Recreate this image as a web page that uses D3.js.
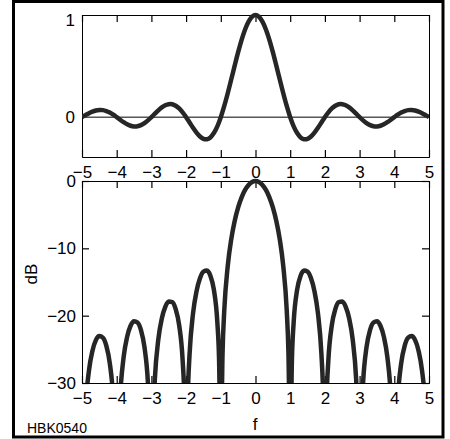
<!DOCTYPE html>
<html><head><meta charset="utf-8">
<script src="https://cdn.jsdelivr.net/npm/d3@7"></script>
<style>body{margin:0;background:#fff}svg{display:block}</style>
</head><body>
<script>
// Top panel: amplitude vs f (sampled)
const ampF = [-5,-4.9,-4.8,-4.7,-4.6,-4.5,-4.4,-4.3,-4.2,-4.1,-4,-3.9,-3.8,-3.7,-3.6,-3.5,-3.4,-3.3,-3.2,-3.1,-3,-2.9,-2.8,-2.7,-2.6,-2.5,-2.4,-2.3,-2.2,-2.1,-2,-1.9,-1.8,-1.7,-1.6,-1.5,-1.4,-1.3,-1.2,-1.1,-1,-0.9,-0.8,-0.7,-0.6,-0.5,-0.4,-0.3,-0.2,-0.1,0,0.1,0.2,0.3,0.4,0.5,0.6,0.7,0.8,0.9,1,1.1,1.2,1.3,1.4,1.5,1.6,1.7,1.8,1.9,2,2.1,2.2,2.3,2.4,2.5,2.6,2.7,2.8,2.9,3,3.1,3.2,3.3,3.4,3.5,3.6,3.7,3.8,3.9,4,4.1,4.2,4.3,4.4,4.5,4.6,4.7,4.8,4.9,5];
const ampV = [0,0.02007,0.03898,0.05479,0.06581,0.07074,0.0688,0.05989,0.04455,0.02399,0,-0.02522,-0.04924,-0.0696,-0.08409,-0.09095,-0.08904,-0.07803,-0.05847,-0.03173,0,0.03392,0.06682,0.09538,0.11643,0.12732,0.12614,0.11196,0.08505,0.04684,0,-0.05177,-0.10394,-0.15148,-0.18921,-0.21221,-0.21624,-0.19809,-0.15592,-0.08942,0,0.10929,0.23387,0.36788,0.50455,0.63662,0.75683,0.85839,0.93549,0.98363,1,0.98363,0.93549,0.85839,0.75683,0.63662,0.50455,0.36788,0.23387,0.10929,0,-0.08942,-0.15592,-0.19809,-0.21624,-0.21221,-0.18921,-0.15148,-0.10394,-0.05177,0,0.04684,0.08505,0.11196,0.12614,0.12732,0.11643,0.09538,0.06682,0.03392,0,-0.03173,-0.05847,-0.07803,-0.08904,-0.09095,-0.08409,-0.0696,-0.04924,-0.02522,0,0.02399,0.04455,0.05989,0.0688,0.07074,0.06581,0.05479,0.03898,0.02007,0];

// Bottom panel: level in dB vs f (sampled, denser near nulls)
const dbF = [-4.98,-4.95,-4.9,-4.8,-4.7,-4.6,-4.5,-4.4,-4.3,-4.2,-4.1,-4.05,-4.02,
 -3.98,-3.95,-3.9,-3.8,-3.7,-3.6,-3.5,-3.4,-3.3,-3.2,-3.1,-3.05,-3.02,
 -2.98,-2.95,-2.9,-2.8,-2.7,-2.6,-2.5,-2.4,-2.3,-2.2,-2.1,-2.05,-2.02,
 -1.98,-1.95,-1.9,-1.8,-1.7,-1.6,-1.5,-1.4,-1.3,-1.2,-1.1,-1.05,-1.02,
 -0.98,-0.95,-0.9,-0.8,-0.7,-0.6,-0.5,-0.4,-0.3,-0.2,-0.1,0,0.1,0.2,0.3,0.4,0.5,0.6,0.7,0.8,0.9,0.95,0.98,
 1.02,1.05,1.1,1.2,1.3,1.4,1.5,1.6,1.7,1.8,1.9,1.95,1.98,
 2.02,2.05,2.1,2.2,2.3,2.4,2.5,2.6,2.7,2.8,2.9,2.95,2.98,
 3.02,3.05,3.1,3.2,3.3,3.4,3.5,3.6,3.7,3.8,3.9,3.95,3.98,
 4.02,4.05,4.1,4.2,4.3,4.4,4.5,4.6,4.7,4.8,4.9,4.95,4.98];
const dbV = [-47.93,-39.95,-33.95,-28.18,-25.23,-23.63,-23.01,-23.25,-24.45,-27.02,-32.40,-38.21,-46.07,
 -45.98,-37.99,-31.97,-26.15,-23.15,-21.50,-20.82,-21.01,-22.15,-24.66,-29.97,-35.74,-43.59,
 -43.47,-35.45,-29.39,-23.50,-20.41,-18.68,-17.90,-17.98,-19.02,-21.41,-26.59,-32.29,-40.09,
 -39.92,-31.86,-25.72,-19.66,-16.39,-14.46,-13.46,-13.30,-14.06,-16.14,-20.97,-26.48,-34.16,
 -33.81,-25.61,-19.23,-12.62,-8.686,-5.942,-3.922,-2.420,-1.326,-0.579,-0.143,0,-0.143,-0.579,-1.326,-2.420,-3.922,-5.942,-8.686,-12.62,-19.23,-25.61,-33.81,
 -34.16,-26.48,-20.97,-16.14,-14.06,-13.30,-13.46,-14.46,-16.39,-19.66,-25.72,-31.86,-39.92,
 -40.09,-32.29,-26.59,-21.41,-19.02,-17.98,-17.90,-18.68,-20.41,-23.50,-29.39,-35.45,-43.47,
 -43.59,-35.74,-29.97,-24.66,-22.15,-21.01,-20.82,-21.50,-23.15,-26.15,-31.97,-37.99,-45.98,
 -46.07,-38.21,-32.40,-27.02,-24.45,-23.25,-23.01,-23.63,-25.23,-28.18,-33.95,-39.95,-47.93];

const xTicks = [-5,-4,-3,-2,-1,0,1,2,3,4,5];
const ampTicks = [0,1];
const dbTicks = [0,-10,-20,-30];
const xLabel = "f";
const yLabelDb = "dB";
const figId = "HBK0540";

const W = 450, H = 439;
const svg = d3.select("body").append("svg").attr("width", W).attr("height", H);
const font = "'Liberation Sans', Arial, sans-serif";
const fs = 17;
const fmt = d => d < 0 ? "\u2212" + Math.abs(d) : String(d);

// outer frame
svg.append("rect").attr("x", 13.5).attr("y", 1.5).attr("width", 429.5).attr("height", 435.5)
  .attr("fill", "none").attr("stroke", "#000").attr("stroke-width", 3);

const L = 82, R = 429;
const x = d3.scaleLinear().domain([-5, 5]).range([L, R]);
const y1 = d3.scaleLinear().domain([-0.39, 1]).range([157, 15]);
const y2 = d3.scaleLinear().domain([-30, 0]).range([383, 181]);

const defs = svg.append("defs");
defs.append("clipPath").attr("id", "c1").append("rect")
  .attr("x", L).attr("y", y1(1) - 4).attr("width", R - L).attr("height", y1(-0.39) - y1(1) + 4);
defs.append("clipPath").attr("id", "c2").append("rect")
  .attr("x", L).attr("y", y2(0) - 4).attr("width", R - L).attr("height", y2(-30) - y2(0) + 4);

const tick = 7;
function panel(y, ticks, top, bottom, isDb) {
  const g = svg.append("g");
  g.append("g").attr("class", "xb").attr("transform", `translate(0,${bottom})`)
    .call(d3.axisBottom(x).tickValues(xTicks).tickSize(-tick).tickPadding(9).tickFormat(fmt));
  g.append("g").attr("transform", `translate(0,${top})`)
    .call(d3.axisTop(x).tickValues(xTicks).tickSize(-tick).tickFormat(""));
  g.append("g").attr("class", "yl").attr("transform", `translate(${L},0)`)
    .call(d3.axisLeft(y).tickValues(ticks).tickSize(isDb ? -tick : 0).tickPadding(isDb ? 6 : 7).tickFormat(fmt));
  g.append("g").attr("transform", `translate(${R},0)`)
    .call(d3.axisRight(y).tickValues(ticks).tickSize(isDb ? -tick : 0).tickFormat(""));
  g.selectAll(".domain").attr("stroke", "#000").attr("stroke-width", 1);
  g.selectAll(".tick line").attr("stroke", "#000").attr("stroke-width", 1.2);
  g.selectAll("text").attr("font-family", font).attr("font-size", fs).attr("fill", "#000");
  return g;
}

const g1 = panel(y1, ampTicks, 15, 157, false);
const g2 = panel(y2, dbTicks, 181, 383, true);
g2.select(".yl").selectAll(".tick text").attr("x", -6);
g1.select(".yl").selectAll(".tick text").filter(d => d === 1).attr("dy", "0.6em");

// zero line in top panel
svg.append("line").attr("x1", L).attr("x2", R).attr("y1", y1(0)).attr("y2", y1(0))
  .attr("stroke", "#000").attr("stroke-width", 1);

svg.append("path").datum(ampF.map((f, i) => [f, ampV[i]]))
  .attr("clip-path", "url(#c1)")
  .attr("d", d3.line().x(d => x(d[0])).y(d => y1(d[1])).curve(d3.curveCatmullRom))
  .attr("fill", "none").attr("stroke", "#262626").attr("stroke-width", 4.5);

svg.append("path").datum(dbF.map((f, i) => [f, dbV[i]]))
  .attr("clip-path", "url(#c2)")
  .attr("d", d3.line().x(d => x(d[0])).y(d => y2(d[1])).curve(d3.curveMonotoneX))
  .attr("fill", "none").attr("stroke", "#262626").attr("stroke-width", 4.5);

svg.append("text").attr("x", 255).attr("y", 430).attr("text-anchor", "middle")
  .attr("font-family", font).attr("font-size", fs).text(xLabel);
svg.append("text").attr("transform", "translate(37,274) rotate(-90)").attr("text-anchor", "middle")
  .attr("font-family", font).attr("font-size", fs).text(yLabelDb);
svg.append("text").attr("x", 27).attr("y", 433)
  .attr("font-family", font).attr("font-size", 14).text(figId);
</script>
</body></html>
